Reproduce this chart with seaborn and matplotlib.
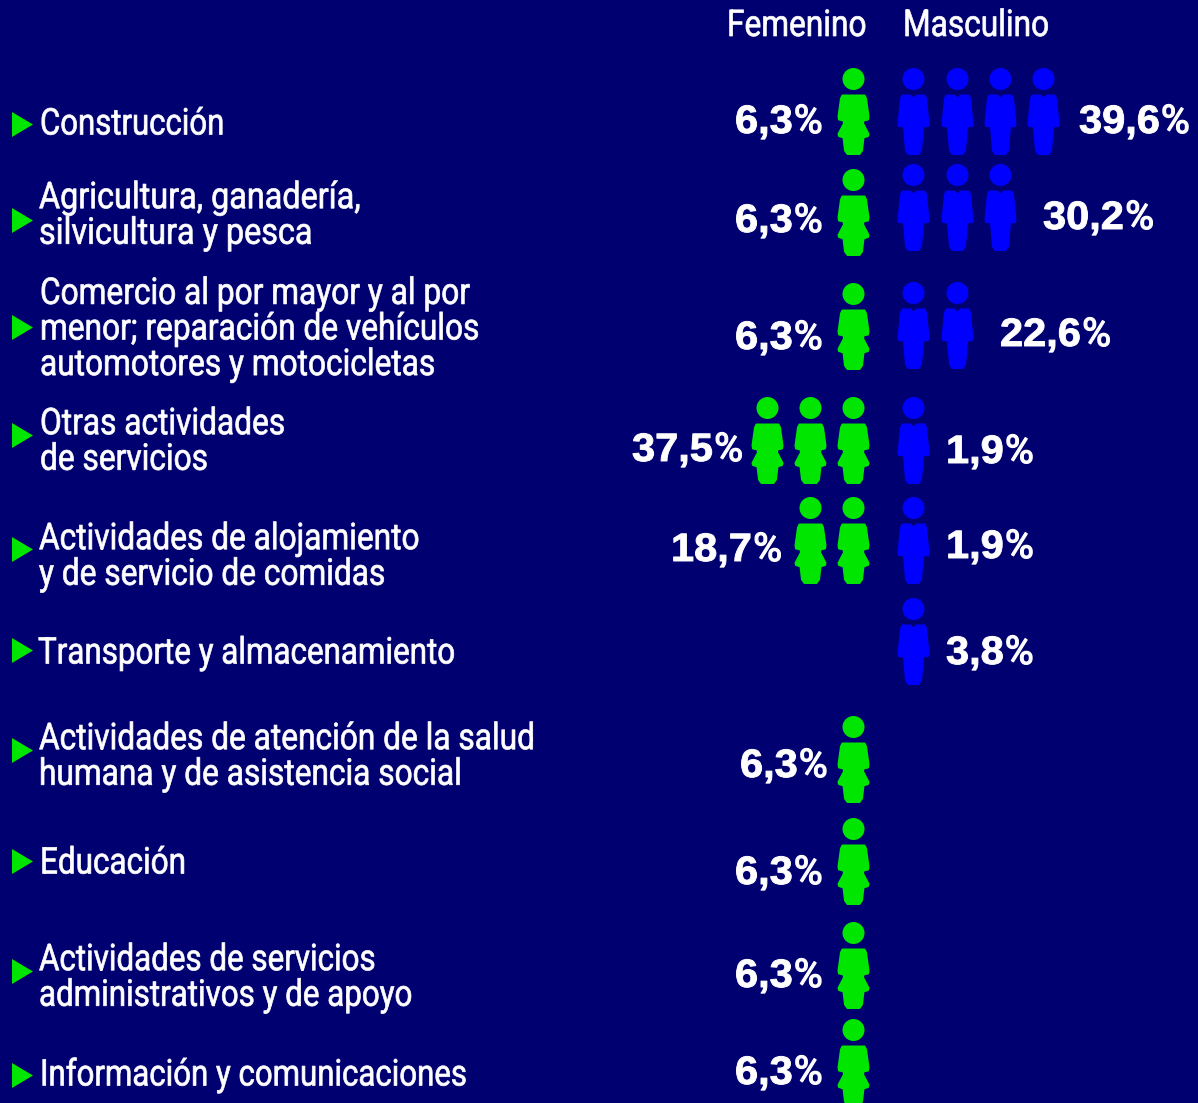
import matplotlib
matplotlib.use("Agg")
import matplotlib.pyplot as plt
import matplotlib.patheffects as pe
from matplotlib.transforms import Affine2D
import numpy as np
import pandas as pd
import seaborn as sns
from matplotlib.path import Path

# ---------- data ----------
categories = [
    "Construcción",
    "Agricultura, ganadería,\nsilvicultura y pesca",
    "Comercio al por mayor y al por\nmenor; reparación de vehículos\nautomotores y motocicletas",
    "Otras actividades\nde servicios",
    "Actividades de alojamiento\ny de servicio de comidas",
    "Transporte y almacenamiento",
    "Actividades de atención de la salud\nhumana y de asistencia social",
    "Educación",
    "Actividades de servicios\nadministrativos y de apoyo",
    "Información y comunicaciones",
]
female_pct = [6.3, 6.3, 6.3, 37.5, 18.7, None, 6.3, 6.3, 6.3, 6.3]
male_pct = [39.6, 30.2, 22.6, 1.9, 1.9, 3.8, None, None, None, None]
female_icons = [1, 1, 1, 3, 2, 0, 1, 1, 1, 1]
male_icons = [4, 3, 2, 1, 1, 1, 0, 0, 0, 0]
headers = ["Femenino", "Masculino"]

# ---------- layout (pixels of the 1198x1103 canvas) ----------
BG, GREEN, BLUE = "#000070", "#00E600", "#0000FF"
female_top = [67, 168, 282, 396, 496, 0, 715, 817, 921, 1018]
male_top = [67, 163, 281, 396, 496, 597, 0, 0, 0, 0]
female_x = [853, 810, 767]
male_x = [913, 956.5, 1000, 1043]
arrow_y = [124, 219.5, 327, 435, 549, 650, 750, 861, 971, 1075]
label_x = [40, 39, 40, 40, 39, 38, 39, 40, 39, 40]
label_y = [124.5, 216, 329.5, 442, 557, 653.5, 757, 863.5, 978, 1075.5]
label_squeeze = [0.846, 0.879, 0.86, 0.86, 0.86, 0.852, 0.86, 0.855, 0.851, 0.848]
f_num_x = [735, 735, 735, 632, 671, 0, 740, 735, 735, 735]
f_base = [133, 232, 349, 461, 561, 0, 777, 884, 987, 1084]
m_num_x = [1079, 1043, 1000, 946, 946, 946]
m_base = [133, 229, 346, 463, 558, 664]
ICON_H = 87.0
LABEL_FONT = "Roboto"
LABEL_SIZE = 26.5
HEADER_SQUEEZE = 0.86
NUM_SIZE = 28.5
NUM_WIDEN = 1.05


class Squeeze(pe.AbstractPathEffect):
    """Scale glyph outlines horizontally about x0 and thicken them slightly."""

    def __init__(self, x0, sx, lw):
        super().__init__()
        self.x0, self.sx, self.lw = x0, sx, lw

    def draw_path(self, renderer, gc, tpath, affine, rgbFace):
        tr = affine + Affine2D().translate(-self.x0, 0).scale(self.sx, 1).translate(self.x0, 0)
        gc0 = renderer.new_gc()
        gc0.copy_properties(gc)
        gc0.set_linewidth(self.lw)
        gc0.set_foreground(rgbFace)
        renderer.draw_path(gc0, tpath, tr, rgbFace)
        gc0.restore()


def icon_path(outline):
    """Head plus body; offsets in px from the icon centre, y pointing down.
    Everything is 1 px inside the real outline; the round marker edge adds it back."""
    half = ICON_H / 2
    head = Path.circle((0, half - 11), 10)
    pts = [(np.sign(x) * max(abs(x) - 1, 0), -(y - np.sign(y))) for x, y in outline]
    body = Path(pts + [pts[0]], closed=True)
    return Path.make_compound_path(head, body)


woman = icon_path([
    (-12, -17), (12, -17), (13.5, -14), (16, 6), (15.5, 9), (11, 10), (10.5, 13),
    (16, 23.5), (15.5, 25.5), (11, 27), (9.5, 40), (7, 43.5), (-7, 43.5), (-9.5, 40),
    (-11, 27), (-15.5, 25.5), (-16, 23.5), (-10.5, 13), (-11, 10), (-15.5, 9),
    (-16, 6), (-13.5, -14),
])
man = icon_path([
    (-12, -17), (-4, -17), (0, -13.5), (4, -17), (12, -17), (13.5, -14),
    (16, 13), (15.5, 15.5), (10.5, 16), (8.5, 40), (6, 43.5), (-6, 43.5), (-8.5, 40),
    (-10.5, 16), (-15.5, 15.5), (-16, 13), (-13.5, -14),
])
triangle = Path([(-10.5, -12.5), (10.5, 0), (-10.5, 12.5), (-10.5, -12.5)], closed=True)

rows_f = [(x, t + ICON_H / 2) for n, t in zip(female_icons, female_top) for x in female_x[:n]]
rows_m = [(x, t + ICON_H / 2) for n, t in zip(male_icons, male_top) for x in male_x[:n]]
df_f = pd.DataFrame(rows_f, columns=["x", "y"])
df_m = pd.DataFrame(rows_m, columns=["x", "y"])
df_a = pd.DataFrame({"x": [22] * len(categories), "y": arrow_y})

fig = plt.figure(figsize=(11.98, 11.03), dpi=100, facecolor=BG)
ax = fig.add_axes([0, 0, 1, 1])
ax.set_facecolor(BG)


def size_for(path, px=72 / 100):
    return (2 * np.abs(path.vertices).max() * px) ** 2


for d, mk, col in [(df_f, woman, GREEN), (df_m, man, BLUE)]:
    sns.scatterplot(data=d, x="x", y="y", marker=mk, s=size_for(mk), color=col,
                    edgecolor=col, linewidth=1.44, joinstyle="round", ax=ax, legend=False)
sns.scatterplot(data=df_a, x="x", y="y", marker=triangle, s=size_for(triangle), color=GREEN,
                linewidth=0, ax=ax, legend=False)
ax.set_xlim(0, 1198)
ax.set_ylim(1103, 0)
ax.axis("off")


def label(x, y, s, sq):
    ax.text(x, y, s, color="white", fontsize=LABEL_SIZE, family=LABEL_FONT,
            va="center", ha="left", linespacing=0.985,
            path_effects=[Squeeze(x, sq, 0.5)])


for c, x, y, sq in zip(categories, label_x, label_y, label_squeeze):
    label(x, y, c, sq)
label(727, 26, headers[0], HEADER_SQUEEZE)
label(903, 26, headers[1], HEADER_SQUEEZE)

renderer = fig.canvas.get_renderer()


def pct(x, y, value):
    t = ax.text(x, y, f"{value:.1f}".replace(".", ","), color="white", fontsize=NUM_SIZE,
                family="Liberation Sans", weight="bold", va="baseline", ha="left",
                path_effects=[Squeeze(x, NUM_WIDEN, 0.7)])
    right = x + (t.get_window_extent(renderer).x1 - x) * NUM_WIDEN
    xp = right + 1
    ax.text(xp, y, "%", color="white", fontsize=NUM_SIZE, family=LABEL_FONT,
            va="baseline", ha="left", path_effects=[Squeeze(xp, 1.0, 0.9)])


for v, x, y in zip(female_pct, f_num_x, f_base):
    if v is not None:
        pct(x, y, v)
for v, x, y in zip(male_pct, m_num_x, m_base):
    if v is not None:
        pct(x, y, v)

fig.savefig("out.png", dpi=100, facecolor=BG)
